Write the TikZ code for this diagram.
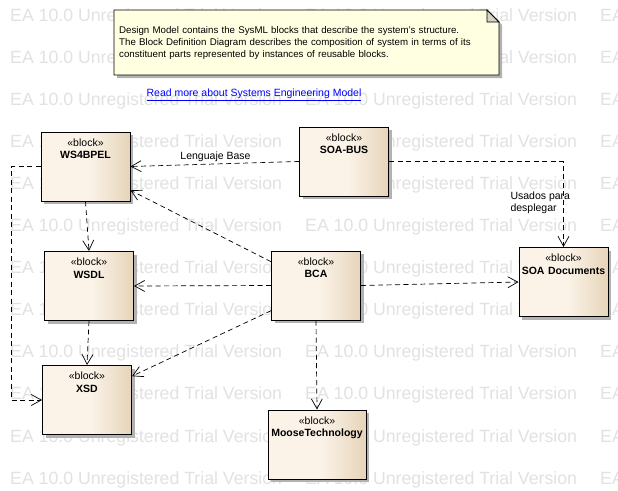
\documentclass[tikz,border=0pt]{standalone}
\usepackage{fontspec}
\setmainfont{Liberation Sans}
\usetikzlibrary{arrows.meta,shadows,calc}

\definecolor{wmark}{RGB}{226,226,226}
\definecolor{blocklight}{RGB}{251,243,232}
\definecolor{blockdark}{RGB}{230,212,186}
\definecolor{notefill}{RGB}{255,255,225}
\definecolor{foldgray}{RGB}{214,210,196}
\definecolor{linkblue}{RGB}{0,0,255}
\pgfdeclarehorizontalshading{blockshade}{100bp}{color(0bp)=(blocklight); color(25bp)=(blocklight); color(52bp)=(blocklight); color(75bp)=(blockdark); color(100bp)=(blockdark)}

\begin{document}
\begin{tikzpicture}[x=1pt, y=-1pt,
  every node/.style={font=\fontsize{10.5}{12.5}\selectfont},
  block/.style={draw=black, line width=1pt, shading=blockshade,
    minimum width=89pt, minimum height=69pt, text width=85pt, align=center,
    inner xsep=2pt, inner ysep=0pt, text height=14pt, text depth=55pt,
    drop shadow={shadow xshift=3pt, shadow yshift=-3pt, fill=black!30, opacity=1}},
  dep/.style={draw=black, line width=0.7pt, dash pattern=on 5pt off 3.5pt,
    -{Straight Barb[length=10pt,width=11pt]}},
  wmtext/.style={text=wmark, font=\fontsize{17.7}{20}\selectfont, anchor=base west, inner sep=0pt},
  notetext/.style={font=\fontsize{9.7}{12}\selectfont, text width=378pt, align=left, inner sep=0pt, anchor=west},
]

\useasboundingbox (0,0) rectangle (618,490);
\clip (0,0) rectangle (618,490);
\fill[white] (0,0) rectangle (618,490);

% trial watermark
\foreach \r in {0,...,11}
  \foreach \c in {0,1,2}
    \node[wmtext] (wm-\r-\c) at (10+295*\c, 21+42.1*\r) {EA 10.0 Unregistered Trial Version};

% note
\filldraw[fill=notefill, draw=black, line width=0.8pt,
  drop shadow={shadow xshift=3pt, shadow yshift=-3pt, fill=black!30, opacity=1}]
  (114,10) -- (487,10) -- (499,22) -- (499,75) -- (114,75) -- cycle;
\filldraw[fill=foldgray, draw=black, line width=0.8pt] (487,10) -- (487,22) -- (499,22) -- cycle;
\node[notetext] (note) at (119,43) {
    Design Model contains the SysML blocks that describe the system's structure.\\
    The Block Definition Diagram describes the composition of system in terms of its\\
    constituent parts represented by instances of reusable blocks.
};

\node[text=linkblue] (link) at (254,95) {\underline{Read more about Systems Engineering Model}};

% blocks
\node[block] (ws4) at (85.5,166.5) {«block»\\\textbf{WS4BPEL}};
\node[block] (sobus) at (344,161.5) {«block»\\\textbf{SOA-BUS}};
\node[block] (soadoc) at (563.5,282) {«block»\\\textbf{SOA Documents}};
\node[block] (bca) at (316,285.5) {«block»\\\textbf{BCA}};
\node[block] (wsdl) at (89,286) {«block»\\\textbf{WSDL}};
\node[block] (xsd) at (87,400) {«block»\\\textbf{XSD}};
\node[block, minimum width=98pt, text width=94pt] (moose) at (317,444.5) {«block»\\\textbf{MooseTechnology}};

% dependencies
\coordinate (leftrail) at (11,0);
\draw[dep] (sobus.west) -- (ws4.east);
\draw[dep] (sobus.east) -| (soadoc.north);
\draw[dep] ($(bca.north west)!0.16!(bca.south west)$) -- ($(ws4.north east)!0.84!(ws4.south east)$);
\draw[dep] (bca.west) -- (wsdl.east);
\draw[dep] ($(bca.north west)!0.86!(bca.south west)$) -- ($(xsd.north east)!0.16!(xsd.south east)$);
\draw[dep] (bca.east) -- (soadoc.west);
\draw[dep] (bca.south) -- (moose.north);
\draw[dep] (ws4.south) -- (wsdl.north);
\draw[dep] (wsdl.south) -- (xsd.north);
\draw[dep] (ws4.west) -- (ws4.west -| leftrail) |- (xsd.west);

\node (lblbase) at (215.5,157) {Lenguaje Base};
\node[align=left, anchor=west] (lbluse) at (507,203) {Usados para\\desplegar};

\end{tikzpicture}
\end{document}
